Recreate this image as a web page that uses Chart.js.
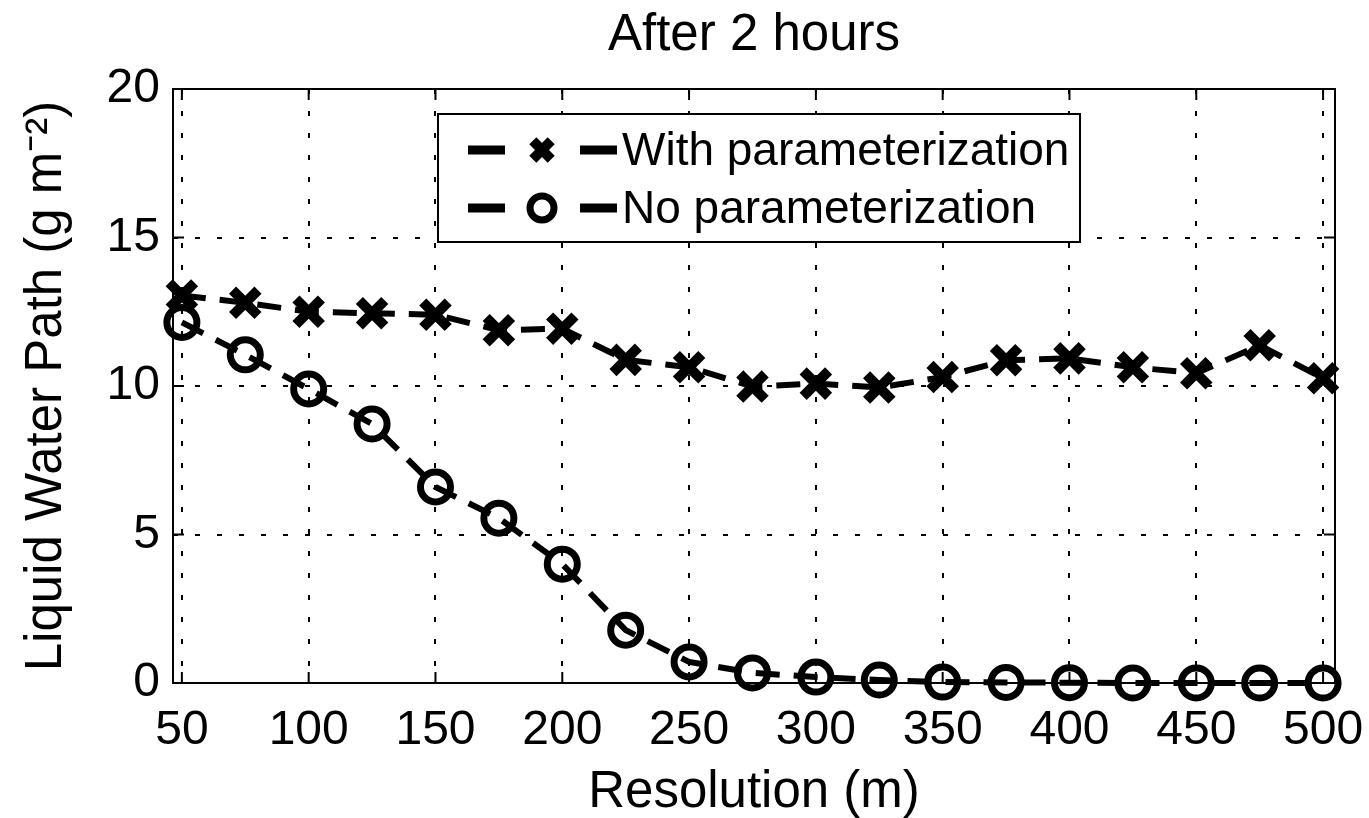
<!DOCTYPE html>
<html>
<head>
<meta charset="utf-8">
<script src="https://cdn.jsdelivr.net/npm/chart.js"></script>
<style>
  html, body { margin: 0; padding: 0; background: #fff; }
  #wrap { width: 1369px; height: 818px; }
</style>
</head>
<body>
<div id="wrap"><canvas id="chart"></canvas></div>
<script>
const resolution = [50, 75, 100, 125, 150, 175, 200, 225, 250, 275, 300, 325, 350, 375, 400, 425, 450, 475, 500];
const withParam = [13.05, 12.8, 12.5, 12.45, 12.4, 11.88, 11.93, 10.88, 10.63, 9.98, 10.08, 9.95, 10.3, 10.87, 10.93, 10.63, 10.43, 11.37, 10.26];
const noParam = [12.14, 11.05, 9.9, 8.72, 6.6, 5.55, 4.0, 1.78, 0.71, 0.34, 0.2, 0.1, 0.03, 0.02, 0.01, 0, 0, 0, 0];
const xTicks = [50, 100, 150, 200, 250, 300, 350, 400, 450, 500];
const yTicks = [0, 5, 10, 15, 20];
const titleText = 'After 2 hours';

const FONT = '"Liberation Sans", Arial, Helvetica, sans-serif';
Chart.defaults.font.family = FONT;
Chart.defaults.color = '#000';

// frame box + inward ticks like the original plot, title centred over the plot
const framePlugin = {
  id: 'frame',
  beforeDatasetsDraw(chart) {
    const {ctx, chartArea: a, scales: {x, y}} = chart;
    ctx.save();
    ctx.strokeStyle = '#000';
    ctx.lineWidth = 2;
    ctx.setLineDash([]);
    ctx.strokeRect(a.left, a.top, a.right - a.left, a.bottom - a.top);
    ctx.beginPath();
    xTicks.forEach(v => {
      const px = x.getPixelForValue(v);
      ctx.moveTo(px, a.bottom); ctx.lineTo(px, a.bottom - 11);
      ctx.moveTo(px, a.top); ctx.lineTo(px, a.top + 11);
    });
    yTicks.forEach(v => {
      const py = y.getPixelForValue(v);
      ctx.moveTo(a.left, py); ctx.lineTo(a.left + 11, py);
      ctx.moveTo(a.right, py); ctx.lineTo(a.right - 11, py);
    });
    ctx.stroke();

    ctx.fillStyle = '#000';
    ctx.font = '51px ' + FONT;
    ctx.textAlign = 'center';
    ctx.textBaseline = 'alphabetic';
    ctx.fillText(titleText, (a.left + a.right) / 2, 50);
    ctx.restore();
  }
};

function drawMarker(ctx, style, cx, cy, r) {
  ctx.beginPath();
  if (style === 'circle') {
    ctx.arc(cx, cy, r, 0, Math.PI * 2);
  } else {
    const d = r * Math.SQRT1_2;
    ctx.moveTo(cx - d, cy - d); ctx.lineTo(cx + d, cy + d);
    ctx.moveTo(cx + d, cy - d); ctx.lineTo(cx - d, cy + d);
  }
  ctx.stroke();
}

// boxed legend inside the plot, matlab style
const boxLegend = {
  id: 'boxLegend',
  afterDraw(chart) {
    const {ctx} = chart;
    const bx = 438, by = 114, bw = 642, bh = 128;
    ctx.save();
    ctx.fillStyle = '#fff';
    ctx.fillRect(bx, by, bw, bh);
    ctx.strokeStyle = '#000';
    ctx.lineWidth = 2;
    ctx.strokeRect(bx, by, bw, bh);
    chart.data.datasets.forEach((ds, i) => {
      const cy = by + 36 + i * 58;
      ctx.strokeStyle = '#000';
      ctx.lineWidth = 9;
      ctx.setLineDash([]);
      ctx.beginPath();
      ctx.moveTo(468, cy); ctx.lineTo(505, cy);
      ctx.moveTo(580, cy); ctx.lineTo(617, cy);
      ctx.stroke();
      ctx.lineWidth = ds.pointBorderWidth;
      drawMarker(ctx, ds.pointStyle, 542, cy, ds.pointStyle === 'circle' ? 12 : 13);
      ctx.fillStyle = '#000';
      ctx.font = '46px ' + FONT;
      ctx.textBaseline = 'middle';
      ctx.fillText(ds.label, 622, cy + 2);
    });
    ctx.restore();
  }
};

new Chart(document.getElementById('chart'), {
  type: 'line',
  data: {
    datasets: [
      {
        label: 'With parameterization',
        data: resolution.map((r, i) => ({x: r, y: withParam[i]})),
        borderColor: '#000',
        borderWidth: 6,
        borderDash: [24, 14],
        pointStyle: 'crossRot',
        pointRadius: 18,
        pointBorderWidth: 10,
        pointBorderColor: '#000',
        pointBackgroundColor: '#000',
        clip: false,
        tension: 0
      },
      {
        label: 'No parameterization',
        data: resolution.map((r, i) => ({x: r, y: noParam[i]})),
        borderColor: '#000',
        borderWidth: 6,
        borderDash: [24, 14],
        pointStyle: 'circle',
        pointRadius: 15,
        pointBorderWidth: 7,
        pointBorderColor: '#000',
        pointBackgroundColor: 'rgba(0,0,0,0)',
        clip: false,
        tension: 0
      }
    ]
  },
  options: {
    responsive: true,
    maintainAspectRatio: false,
    animation: false,
    layout: {padding: {left: 0, right: 34, top: 89, bottom: 0}},
    plugins: {
      legend: {display: false},
      tooltip: {enabled: false},
      title: {display: false}
    },
    scales: {
      x: {
        type: 'linear',
        min: 46.5,
        max: 504.7,
        afterBuildTicks: s => { s.ticks = xTicks.map(v => ({value: v})); },
        afterFit: s => { s.height = 135; s.paddingLeft = 0; s.paddingRight = 0; },
        grid: {color: '#000', lineWidth: 2, drawTicks: false},
        border: {display: false, dash: [5, 17]},
        ticks: {font: {size: 48}, padding: 19, maxRotation: 0, autoSkip: false},
        title: {display: true, text: 'Resolution (m)', font: {size: 51, lineHeight: 1}, padding: {top: 0, bottom: 0}}
      },
      y: {
        min: 0,
        max: 20,
        afterBuildTicks: s => { s.ticks = yTicks.map(v => ({value: v})); },
        afterFit: s => { s.width = 173; s.paddingTop = 0; s.paddingBottom = 0; },
        grid: {color: '#000', lineWidth: 2, drawTicks: false},
        border: {display: false, dash: [5, 17]},
        ticks: {font: {size: 48}, padding: 13},
        title: {display: true, text: 'Liquid Water Path (g m\u207B\u00B2)', font: {size: 51, lineHeight: 1.2}, padding: {top: 16, bottom: 0}}
      }
    }
  },
  plugins: [framePlugin, boxLegend]
});
</script>
</body>
</html>
